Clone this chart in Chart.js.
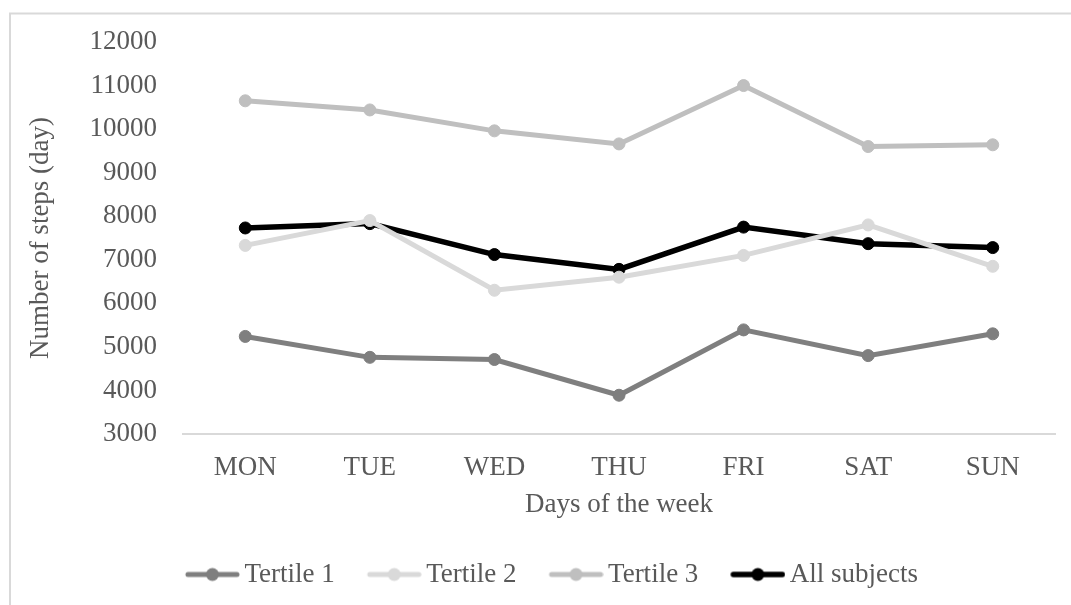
<!DOCTYPE html>
<html>
<head>
<meta charset="utf-8">
<script src="https://cdn.jsdelivr.net/npm/chart.js@4/dist/chart.umd.min.js"></script>
<style>
  html, body { margin: 0; padding: 0; background: #fff; }
  #wrap { position: relative; width: 1071px; height: 605px; }
</style>
</head>
<body>
<div id="wrap"><canvas id="stepsChart" width="1071" height="605"></canvas></div>
<script>
// data
const days = ['MON', 'TUE', 'WED', 'THU', 'FRI', 'SAT', 'SUN'];
const tertile1 = [5240, 4760, 4710, 3890, 5390, 4800, 5300];
const tertile2 = [7330, 7900, 6300, 6600, 7100, 7800, 6850];
const tertile3 = [10650, 10440, 9960, 9660, 11000, 9600, 9640];
const allSubjects = [7730, 7830, 7120, 6780, 7750, 7370, 7280];
const yTicks = [3000, 4000, 5000, 6000, 7000, 8000, 9000, 10000, 11000, 12000];

const fontFamily = '"Liberation Serif", "Times New Roman", serif';
const fontSize = 27;
const textColor = '#595959';

// legend marker: line with a dot, drawn on the right part of a wider canvas
function legendMarker(color, width) {
    const c = document.createElement('canvas');
    c.width = 86;
    c.height = 16;
    const g = c.getContext('2d');
    g.strokeStyle = color;
    g.lineWidth = width;
    g.lineCap = 'round';
    g.beginPath();
    g.moveTo(34, 8);
    g.lineTo(83, 8);
    g.stroke();
    g.fillStyle = color;
    g.beginPath();
    g.arc(58.5, 8, 6.5, 0, Math.PI * 2);
    g.fill();
    return c;
}

function makeSet(label, data, color, width) {
    return {
        label: label,
        data: data,
        borderColor: color,
        backgroundColor: color,
        borderWidth: width,
        pointRadius: 6,
        pointBorderWidth: 1,
        pointBackgroundColor: color,
        pointBorderColor: color,
        pointStyle: 'circle',
        legendStyle: legendMarker(color, width),
        tension: 0
    };
}

const frame = {
    id: 'frame',
    beforeDraw(chart) {
        const ctx = chart.ctx;
        ctx.save();
        ctx.fillStyle = '#fff';
        ctx.fillRect(0, 0, chart.width, chart.height);
        ctx.strokeStyle = '#d9d9d9';
        ctx.lineWidth = 2;
        ctx.beginPath();
        ctx.moveTo(10, 605);
        ctx.lineTo(10, 13.5);
        ctx.lineTo(1071, 13.5);
        ctx.stroke();
        ctx.restore();
    }
};

const datasets = [
    makeSet('Tertile 1', tertile1, '#7f7f7f', 5),
    makeSet('Tertile 2', tertile2, '#d9d9d9', 5),
    makeSet('Tertile 3', tertile3, '#bfbfbf', 5),
    makeSet('All subjects', allSubjects, '#000000', 5.5)
];

new Chart(document.getElementById('stepsChart'), {
    type: 'line',
    data: { labels: days, datasets: datasets },
    plugins: [frame],
    options: {
        responsive: false,
        animation: false,
        layout: { padding: { left: 26, right: 16, top: 42, bottom: 7 } },
        plugins: {
            tooltip: { enabled: false },
            legend: {
                position: 'bottom',
                labels: {
                    usePointStyle: true,
                    pointStyleWidth: 68,
                    padding: 10,
                    color: textColor,
                    font: { family: fontFamily, size: fontSize },
                    generateLabels(chart) {
                        return chart.data.datasets.map((d, i) => ({
                            text: d.label,
                            fillStyle: d.borderColor,
                            strokeStyle: d.borderColor,
                            pointStyle: d.legendStyle,
                            fontColor: textColor,
                            lineWidth: 0,
                            hidden: false,
                            datasetIndex: i
                        }));
                    }
                }
            }
        },
        scales: {
            x: {
                offset: true,
                grid: { display: false, drawTicks: false, offset: true },
                border: { display: true, color: '#d9d9d9', width: 2 },
                ticks: {
                    color: textColor,
                    padding: 18,
                    font: { family: fontFamily, size: fontSize }
                },
                title: {
                    display: true,
                    text: 'Days of the week',
                    color: textColor,
                    padding: { bottom: 33 },
                    font: { family: fontFamily, size: fontSize, lineHeight: 1 }
                },
                afterFit(scale) {
                    scale.height = 117;
                    scale.paddingLeft = 0;
                    scale.paddingRight = 0;
                }
            },
            y: {
                min: 3000,
                max: 12000,
                grid: { display: false, drawTicks: false },
                border: { display: false },
                afterBuildTicks(scale) {
                    scale.ticks = yTicks.map(v => ({ value: v }));
                },
                ticks: {
                    color: textColor,
                    padding: 26,
                    font: { family: fontFamily, size: fontSize },
                    callback: v => String(v)
                },
                title: {
                    display: true,
                    text: 'Number of steps (day)',
                    color: textColor,
                    padding: { top: 1 },
                    font: { family: fontFamily, size: fontSize, lineHeight: 1 }
                },
                afterFit(scale) {
                    scale.width = 157;
                    scale.paddingTop = 0;
                    scale.paddingBottom = 0;
                }
            }
        }
    }
});
</script>
</body>
</html>
